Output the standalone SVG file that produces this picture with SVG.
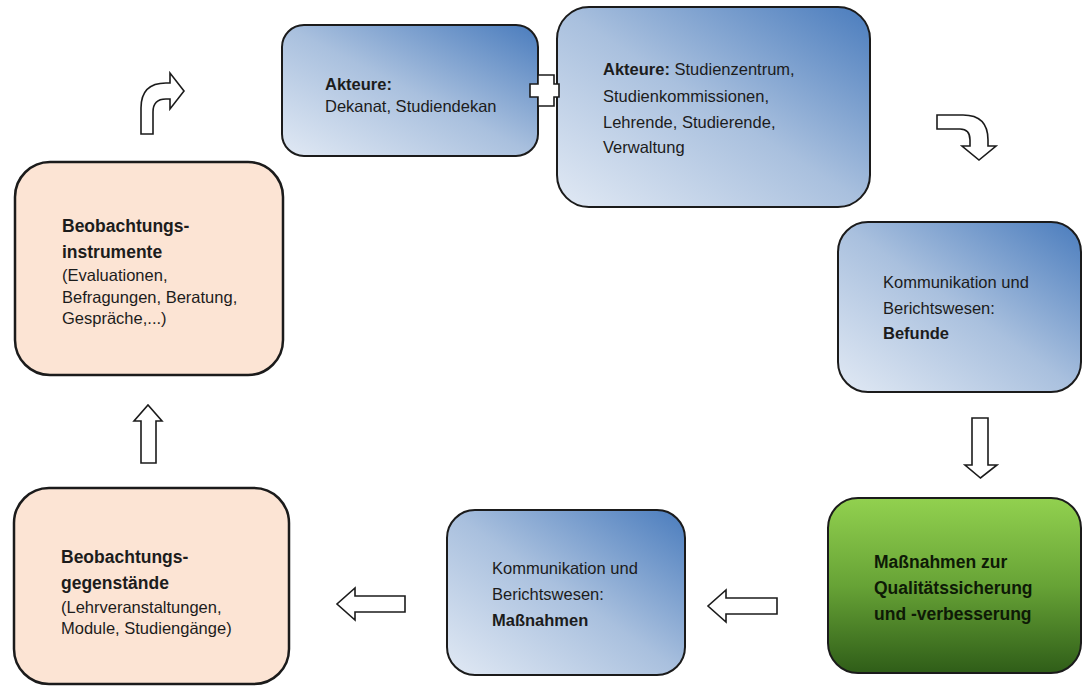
<svg xmlns="http://www.w3.org/2000/svg" width="1083" height="686" viewBox="0 0 1083 686">
<defs>
<linearGradient id="blue" x1="0" y1="1" x2="1" y2="0">
<stop offset="0" stop-color="#e1e9f4"/>
<stop offset="0.5" stop-color="#a9c0de"/>
<stop offset="1" stop-color="#4a7cbd"/>
</linearGradient>
<linearGradient id="green" x1="0" y1="0" x2="0" y2="1">
<stop offset="0" stop-color="#92d14f"/>
<stop offset="0.5" stop-color="#67a336"/>
<stop offset="1" stop-color="#2f5d18"/>
</linearGradient>
<style>
.box{stroke:#1b1b1b;stroke-width:2}
.blue{fill:url(#blue)}
.peach{fill:#fce4d4;stroke-width:2.5}
.green{fill:url(#green)}
.arr{fill:#ffffff;stroke:#1b1b1b;stroke-width:1.6;stroke-linejoin:miter}
text{font-family:"Liberation Sans",Arial,sans-serif;font-size:16.5px;fill:#1c1c1c}
.b{font-weight:bold}
.h{font-weight:bold;font-size:17.5px}
.g{font-weight:bold;font-size:17.5px;fill:#0e1a06}
</style>
</defs>

<g id="node-akteure-dekanat">
<rect class="box blue" x="282" y="25" width="256" height="131" rx="22"/>
<text x="325" y="90" class="b">Akteure:</text>
<text x="325" y="112">Dekanat, Studiendekan</text>
</g>

<g id="node-akteure-studienzentrum">
<rect class="box blue" x="557" y="7" width="313" height="200" rx="32"/>
<text x="603" y="75"><tspan class="b">Akteure:</tspan> Studienzentrum,</text>
<text x="603" y="102">Studienkommissionen,</text>
<text x="603" y="128">Lehrende, Studierende,</text>
<text x="603" y="153">Verwaltung</text>
</g>

<g id="node-befunde">
<rect class="box blue" x="838" y="222" width="243" height="170" rx="30"/>
<text x="883" y="288">Kommunikation und</text>
<text x="883" y="314">Berichtswesen:</text>
<text x="883" y="339" class="b">Befunde</text>
</g>

<g id="node-massnahmen-qs">
<rect class="box green" x="828" y="498" width="253" height="175" rx="30"/>
<text x="874" y="568" class="g">Maßnahmen zur</text>
<text x="874" y="594" class="g">Qualitätssicherung</text>
<text x="874" y="620" class="g">und -verbesserung</text>
</g>

<g id="node-kommunikation-massnahmen">
<rect class="box blue" x="447" y="510" width="238" height="165" rx="28"/>
<text x="492" y="574">Kommunikation und</text>
<text x="492" y="600">Berichtswesen:</text>
<text x="492" y="626" class="b">Maßnahmen</text>
</g>

<g id="node-beobachtungsgegenstaende">
<rect class="box peach" x="14" y="488" width="275" height="196" rx="35"/>
<text x="61" y="563" class="h">Beobachtungs-</text>
<text x="61" y="589" class="h">gegenstände</text>
<text x="61" y="613">(Lehrveranstaltungen,</text>
<text x="61" y="634">Module, Studiengänge)</text>
</g>

<g id="node-beobachtungsinstrumente">
<rect class="box peach" x="15" y="162" width="268" height="213" rx="35"/>
<text x="62" y="232" class="h">Beobachtungs-</text>
<text x="62" y="258" class="h">instrumente</text>
<text x="62" y="281">(Evaluationen,</text>
<text x="62" y="303">Befragungen, Beratung,</text>
<text x="62" y="324">Gespräche,...)</text>
</g>

<g id="connectors">
<path class="arr" d="M538,75 H554 V84 H559 V97 H554 V106 H538 V97 H530 V84 H538 Z"/>
<path class="arr" d="M937,115 L963,115 Q988,115 988,140 L988,146 L996,146 L979,160 L962,146 L970,146 L970,140 Q970,129 960,129 L937,129 Z"/>
<path class="arr" d="M972,418 H988 V465 H997 L980.5,478 L965,465 H972 Z"/>
<path class="arr" d="M777,598 V614 H726 V622 L708,606 L726,590 V598 Z"/>
<path class="arr" d="M405,596 V612 H355 V620 L337,604 L355,588 V596 Z"/>
<path class="arr" d="M141,463 V421 H134 L148,405 L162,421 H156 V463 Z"/>
<path class="arr" d="M141,134 L141,108 Q141,83 166,83 L170,83 L170,73 L184,91 L170,109 L170,99 L166,99 Q153,99 153,112 L153,134 Z"/>
</g>
</svg>
